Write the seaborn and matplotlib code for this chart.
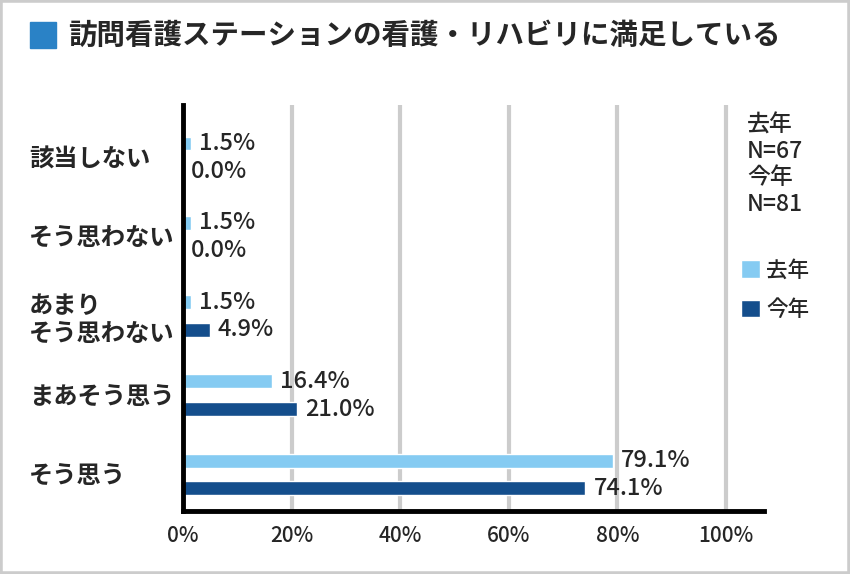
import pandas as pd
import matplotlib.pyplot as plt
import seaborn as sns
from matplotlib.patches import Rectangle

# Data
categories = ["該当しない", "そう思わない", "あまり\nそう思わない", "まあそう思う", "そう思う"]
last_year = [1.5, 1.5, 1.5, 16.4, 79.1]
this_year = [0.0, 0.0, 4.9, 21.0, 74.1]
series_names = ["去年", "今年"]
x_ticks = [0, 20, 40, 60, 80, 100]
title = "訪問看護ステーションの看護・リハビリに満足している"
n_note = "去年\nN=67\n今年\nN=81"

df = pd.DataFrame({
    "category": categories * 2,
    "year": [series_names[0]] * len(categories) + [series_names[1]] * len(categories),
    "value": last_year + this_year,
})

sns.set_style("white")
plt.rcParams["font.family"] = ["Noto Sans CJK JP", "DejaVu Sans"]

fig = plt.figure(figsize=(8.5, 5.74), dpi=100)
ax = fig.add_axes([183 / 850, 1 - 511 / 574, (764 - 183) / 850, (511 - 105) / 574])

sns.barplot(data=df, y="category", x="value", hue="year", order=categories,
            hue_order=series_names, palette=["#85CBF2", "#144E8C"], saturation=1,
            orient="h", width=0.7, gap=0.5, ax=ax, legend=True)

ax.set_xlim(0, 107)
ax.set_ylim(4.46, -0.66)
ax.set_xticks(x_ticks)
ax.set_xticklabels([f"{t}%" for t in x_ticks], fontsize=15, fontweight="medium")
ax.set_xlabel("")
ax.set_ylabel("")
ax.xaxis.grid(True, color="#cccccc", linewidth=3)
ax.set_axisbelow(True)
for side in ["top", "right"]:
    ax.spines[side].set_visible(False)
for side in ["left", "bottom"]:
    ax.spines[side].set_color("black")
    ax.spines[side].set_linewidth(3.5)
ax.tick_params(axis="x", length=0, pad=10)
ax.tick_params(axis="y", length=0, pad=111)
for lbl in ax.get_yticklabels():
    lbl.set_horizontalalignment("left")
    lbl.set_multialignment("left")
    lbl.set_fontsize(17.5)
    lbl.set_fontweight("bold")
    lbl.set_linespacing(1.22)

# value labels
for cont in ax.containers:
    vals = [b.get_width() for b in cont]
    ax.bar_label(cont, labels=[f"{v:.1f}%" for v in vals], padding=6,
                 fontsize=17, fontweight="medium")

# legend
handles, labels = ax.get_legend_handles_labels()
ax.legend(handles, labels, loc="upper left", bbox_to_anchor=(722 / 850, 1 - 240 / 574),
          bbox_transform=fig.transFigure, frameon=False,
          prop={"size": 15.5, "weight": "medium"},
          handlelength=0.85, handleheight=0.85, handletextpad=0.3, labelspacing=0.8)

fig.text(747 / 850, 1 - 114 / 574, n_note, fontsize=16.5, fontweight="medium",
         va="top", ha="left", linespacing=1.18)

# title
fig.patches.append(Rectangle((30 / 850, 1 - 48 / 574), 26 / 850, 26 / 574,
                             transform=fig.transFigure, color="#2A82C6", figure=fig))
fig.text(68 / 850, 1 - 36 / 574, title, fontsize=20.5, fontweight="bold", va="center", ha="left")

# outer border
fig.patches.append(Rectangle((0, 0), 1, 1, transform=fig.transFigure, fill=False,
                             edgecolor="#cccccc", linewidth=4, figure=fig))

fig.savefig("out.png", dpi=100)
